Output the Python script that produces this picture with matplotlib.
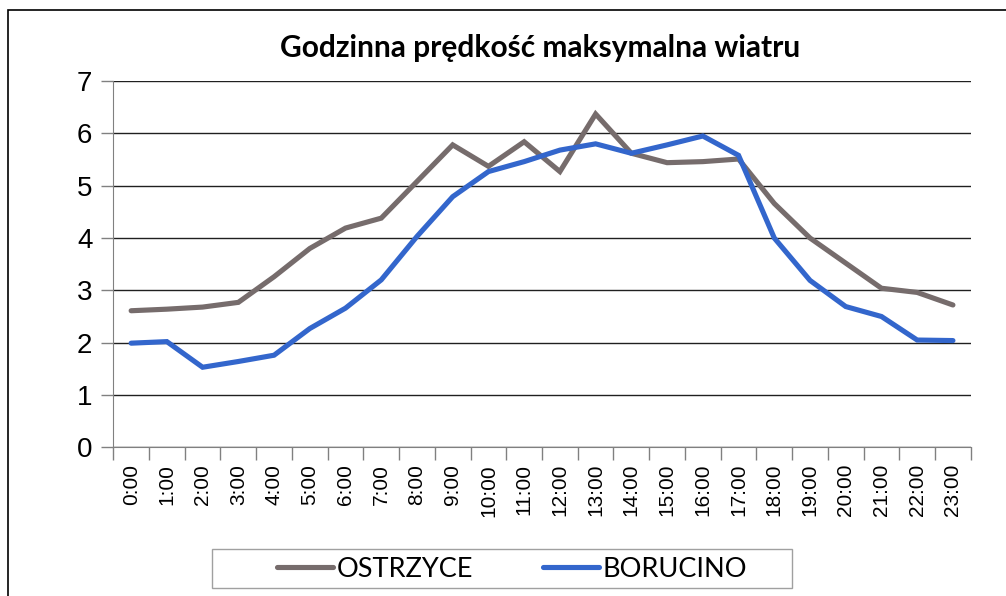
import numpy as np
import matplotlib.pyplot as plt
from matplotlib.patches import Rectangle

# Hourly maximum wind speed at two stations
hours = ["%d:00" % h for h in range(24)]
ostrzyce = [2.61, 2.64, 2.68, 2.77, 3.26, 3.80, 4.19, 4.38, 5.08, 5.78, 5.37, 5.84,
            5.27, 6.37, 5.62, 5.44, 5.46, 5.51, 4.66, 4.00, 3.52, 3.04, 2.96, 2.72]
borucino = [1.99, 2.02, 1.53, 1.64, 1.76, 2.27, 2.66, 3.20, 4.03, 4.79, 5.27, 5.46,
            5.68, 5.80, 5.62, 5.78, 5.95, 5.58, 4.00, 3.19, 2.69, 2.50, 2.05, 2.04]
y_ticks = [0, 1, 2, 3, 4, 5, 6, 7]

fig = plt.figure(figsize=(10.06, 5.96), dpi=100)
ax = fig.add_axes([0.1126, 0.2495, 0.8524, 0.6145])

x = np.arange(len(hours))
ax.plot(x, ostrzyce, color='#766c6c', lw=3.7, label='OSTRZYCE',
        solid_joinstyle='miter', solid_capstyle='round')
ax.plot(x, borucino, color='#3366cc', lw=3.7, label='BORUCINO',
        solid_joinstyle='miter', solid_capstyle='round')

ax.set_xlim(-0.5, len(hours) - 0.5)
ax.set_ylim(0, 7)

# labels sit in the middle of each category, tick marks on the boundaries
ax.set_xticks(x)
ax.set_xticklabels(hours, rotation=90, fontsize=15, family='Liberation Sans')
ax.set_xticks(np.arange(-0.5, len(hours)), minor=True)
ax.tick_params(axis='x', which='major', length=0, pad=12)
ax.tick_params(axis='x', which='minor', length=9, width=1, color='#808080')

ax.set_yticks(y_ticks)
ax.set_yticklabels([str(v) for v in y_ticks], fontsize=20, family='Liberation Sans')
ax.tick_params(axis='y', length=9, width=1, color='#808080', pad=6)

ax.grid(axis='y', color='#202020', lw=1)
ax.set_axisbelow(True)
for side in ['top', 'right']:
    ax.spines[side].set_visible(False)
ax.spines['left'].set_color('#808080')
ax.spines['bottom'].set_color('#808080')

fig.text(0.537, 0.9044, 'Godzinna prędkość maksymalna wiatru', ha='center', va='baseline',
         fontsize=21.5, fontweight='bold', family='Lato')

leg = fig.legend(loc='center', bbox_to_anchor=(0.509, 0.0453), ncol=2, frameon=False,
                 handlelength=2.07, handletextpad=0.15, columnspacing=2.55,
                 prop={'family': 'Lato', 'size': 19.5})

# legend box and outer chart border
fig.patches.append(Rectangle((0.2107, 0.0134), 0.5765, 0.0654, transform=fig.transFigure,
                             fill=False, edgecolor='#a0a0a0', lw=1))
fig.patches.append(Rectangle((0.008, -0.1), 1.2, 1.083, transform=fig.transFigure,
                             fill=False, edgecolor='black', lw=1.2))

fig.savefig('out.png', dpi=100)
